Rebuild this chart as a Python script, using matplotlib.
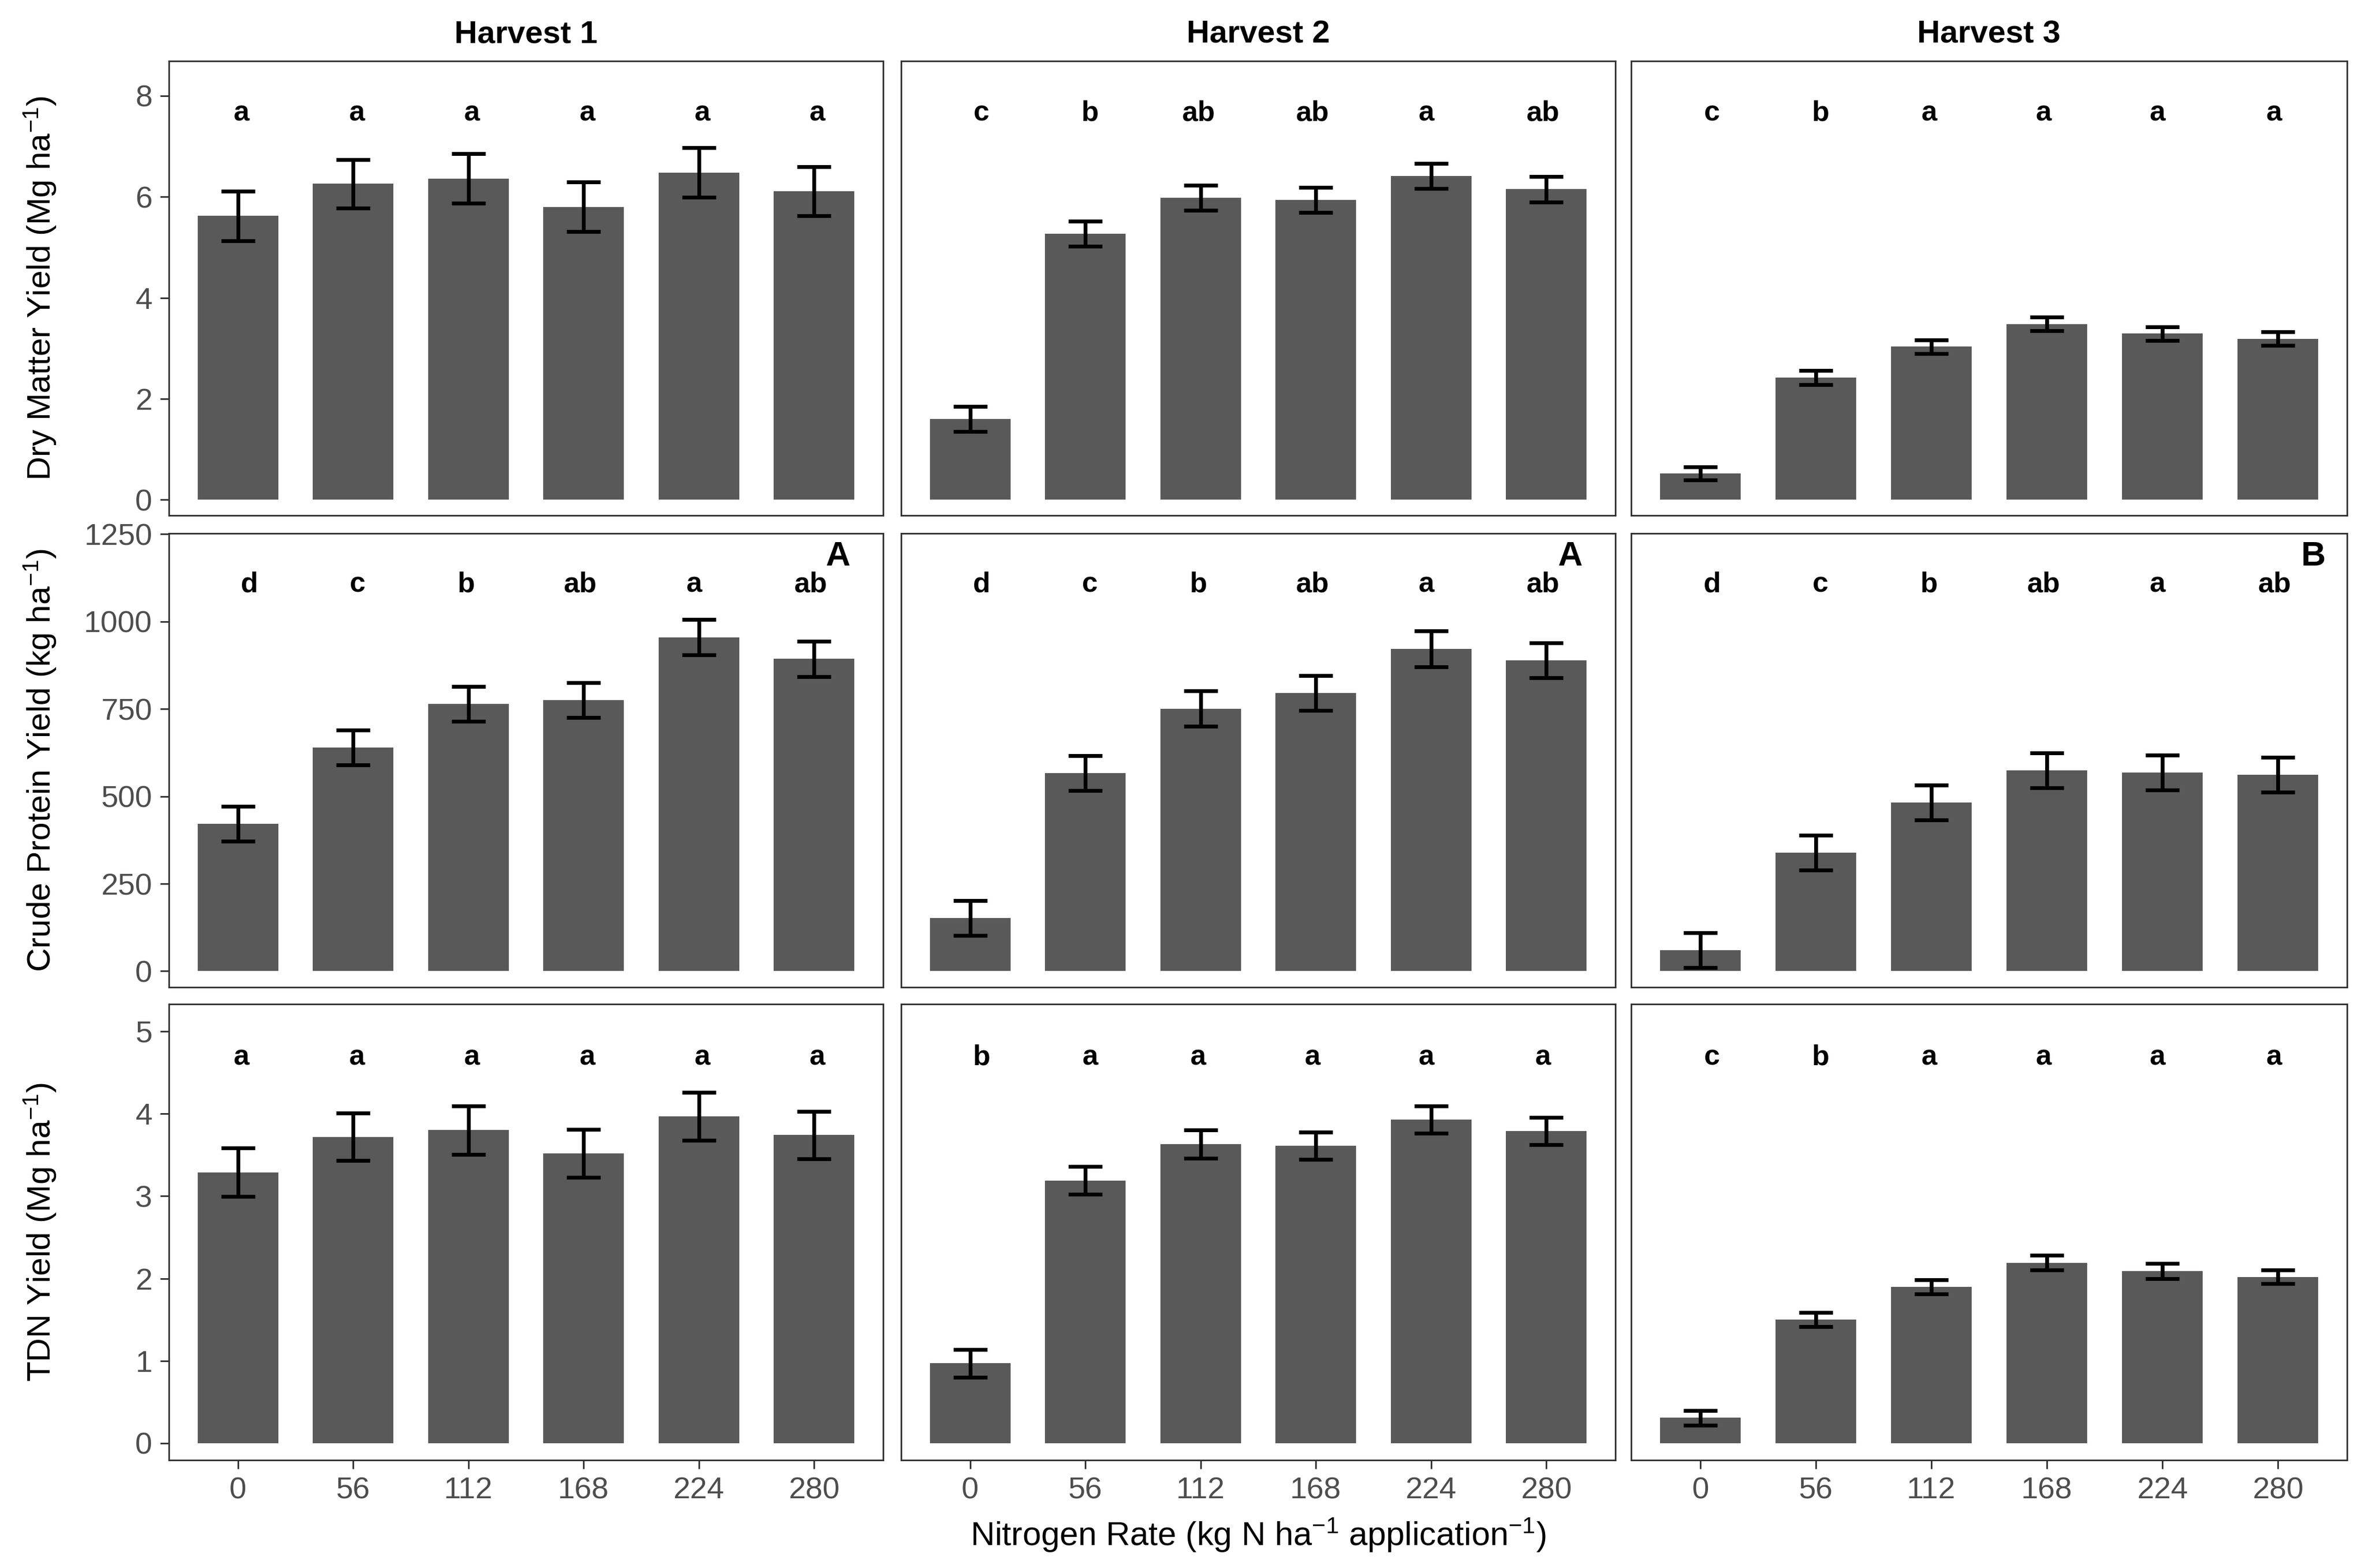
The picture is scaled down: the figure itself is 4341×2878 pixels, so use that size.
import numpy as np
import matplotlib as mpl
mpl.use('Agg')
import matplotlib.pyplot as plt

# ---- data ----
rates = ['0', '56', '112', '168', '224', '280']
harvests = ['Harvest 1', 'Harvest 2', 'Harvest 3']

dm_mean = [[5.62, 6.26, 6.36, 5.80, 6.48, 6.11],
           [1.60, 5.27, 5.98, 5.94, 6.41, 6.15],
           [0.52, 2.42, 3.03, 3.48, 3.29, 3.19]]
dm_se = [[0.49, 0.48, 0.49, 0.49, 0.49, 0.49],
         [0.25, 0.25, 0.25, 0.25, 0.25, 0.25],
         [0.13, 0.135, 0.13, 0.135, 0.135, 0.135]]
dm_letters = [['a', 'a', 'a', 'a', 'a', 'a'],
              ['c', 'b', 'ab', 'ab', 'a', 'ab'],
              ['c', 'b', 'a', 'a', 'a', 'a']]

cp_mean = [[421, 640, 764, 775, 955, 893],
           [152, 566, 751, 795, 922, 889],
           [60, 339, 482, 574, 568, 562]]
cp_se = [[50, 50, 50, 50, 51, 50],
         [50, 50, 50, 50, 51, 50],
         [50, 50, 50, 50, 50, 50]]
cp_letters = [['d', 'c', 'b', 'ab', 'a', 'ab'],
              ['d', 'c', 'b', 'ab', 'a', 'ab'],
              ['d', 'c', 'b', 'ab', 'a', 'ab']]
cp_group = ['A', 'A', 'B']

tdn_mean = [[3.29, 3.72, 3.80, 3.52, 3.97, 3.74],
            [0.97, 3.19, 3.63, 3.61, 3.93, 3.79],
            [0.31, 1.50, 1.90, 2.19, 2.09, 2.02]]
tdn_se = [[0.295, 0.29, 0.295, 0.29, 0.29, 0.29],
          [0.17, 0.17, 0.17, 0.165, 0.165, 0.165],
          [0.09, 0.085, 0.085, 0.09, 0.09, 0.085]]
tdn_letters = [['a', 'a', 'a', 'a', 'a', 'a'],
               ['b', 'a', 'a', 'a', 'a', 'a'],
               ['c', 'b', 'a', 'a', 'a', 'a']]

ylabels = ['Dry Matter Yield (Mg ha$^{-1}$)',
           'Crude Protein Yield (kg ha$^{-1}$)',
           'TDN Yield (Mg ha$^{-1}$)']

# ---- layout / style ----
plt.rcParams['mathtext.fontset'] = 'custom'
plt.rcParams['mathtext.rm'] = 'Liberation Sans'
plt.rcParams['mathtext.it'] = 'Liberation Sans'

font = ['Liberation Sans', 'DejaVu Sans']
bar_col = '#595959'
frame_col = '#333333'
tick_col = '#4d4d4d'

rows = [(dm_mean, dm_se, dm_letters, 7.65, (-0.31, 8.69), [0, 2, 4, 6, 8]),
        (cp_mean, cp_se, cp_letters, 1105, (-46, 1252), [0, 250, 500, 750, 1000, 1250]),
        (tdn_mean, tdn_se, tdn_letters, 4.68, (-0.205, 5.33), [0, 1, 2, 3, 4, 5])]

col_x = [(0.0714, 0.3734), (0.3810, 0.6830), (0.6897, 0.9924)]
row_y = [(0.6713, 0.9611), (0.3704, 0.6598), (0.0688, 0.3596)]
group_x = [6.21, 6.21, 6.31]
# small horizontal nudges of the letter labels
nudge_same = [0.03] * 6
nudge_mixed = [0.1, 0.04, -0.02, -0.03, -0.04, -0.03]

fig = plt.figure(figsize=(4341 / 300, 2878 / 300), dpi=300)
x = np.arange(1, 7)

for r, (means, ses, letters, let_y, ylim, yticks) in enumerate(rows):
    for c in range(3):
        x0, x1 = col_x[c]
        y0, y1 = row_y[r]
        ax = fig.add_axes([x0, y0, x1 - x0, y1 - y0])
        ax.bar(x, means[c], width=0.7, color=bar_col)
        ax.errorbar(x, means[c], yerr=ses[c], fmt='none', ecolor='black',
                    elinewidth=1.7, capsize=7.5, capthick=1.7)
        nudge = nudge_same if len(set(letters[c])) == 1 else nudge_mixed
        for xi, dx, lab in zip(x, nudge, letters[c]):
            ax.text(xi + dx, let_y, lab, ha='center', va='center', fontsize=12.5,
                    fontweight='bold', family=font)
        if r == 1:
            ax.text(group_x[c], 1186, cp_group[c], ha='center', va='center',
                    fontsize=15, fontweight='bold', family=font)
        ax.set_xlim(0.4, 6.6)
        ax.set_ylim(*ylim)
        for s in ax.spines.values():
            s.set_color(frame_col)
            s.set_linewidth(0.7)
        ax.tick_params(length=3.8, width=0.7, color=frame_col,
                       labelcolor=tick_col, labelsize=13.5)
        if c == 0:
            ax.set_yticks(yticks)
            ax.set_yticklabels([str(t) for t in yticks], family=font)
        else:
            ax.set_yticks([])
        if r == 2:
            ax.set_xticks(x)
            ax.set_xticklabels(rates, family=font)
        else:
            ax.set_xticks([])
        if r == 0:
            ax.set_title(harvests[c], fontsize=14, fontweight='bold',
                         family=font, pad=8)

for r in range(3):
    y0, y1 = row_y[r]
    fig.text(0.017, (y0 + y1) / 2, ylabels[r], rotation=90, ha='center',
             va='center', fontsize=14.5, family=font)

fig.text(0.532, 0.021, 'Nitrogen Rate (kg N ha$^{-1}$ application$^{-1}$)',
         ha='center', va='center', fontsize=14.7, family=font)

fig.savefig('out.png', dpi=300)
